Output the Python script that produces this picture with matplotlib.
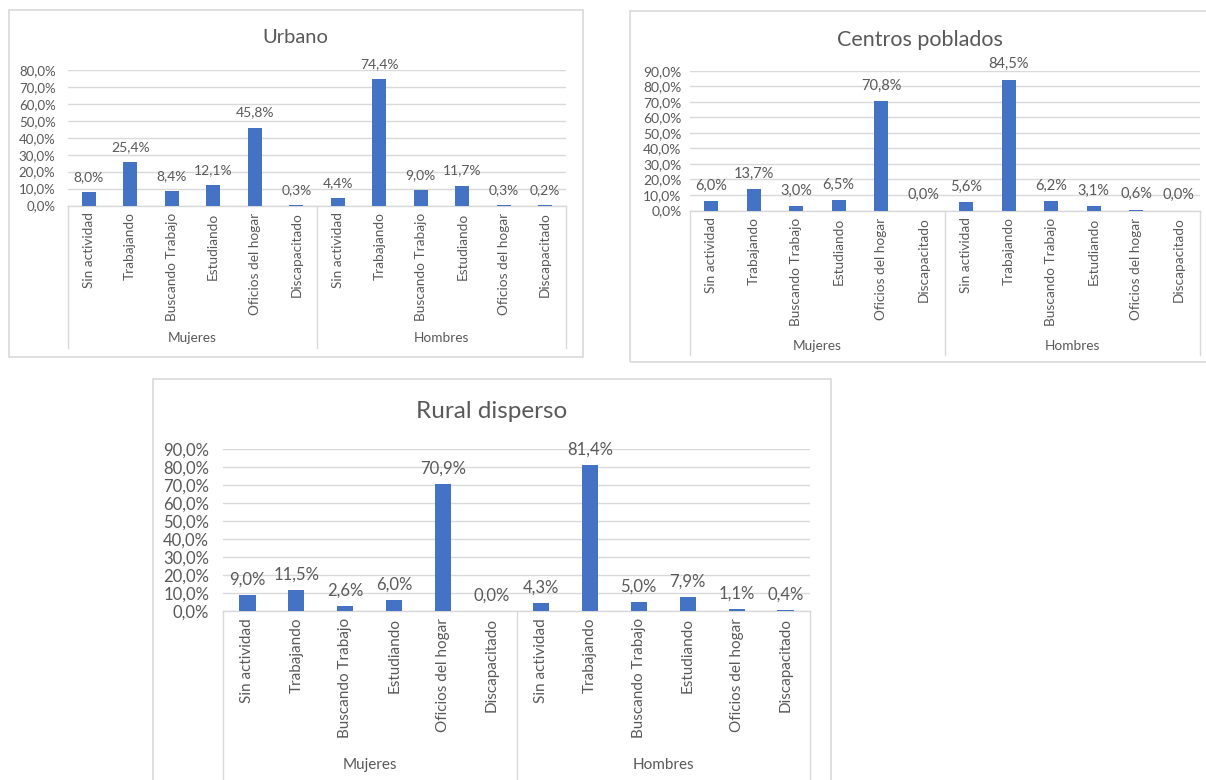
import numpy as np
import matplotlib
matplotlib.use("Agg")
import matplotlib.pyplot as plt
import matplotlib.transforms as mtransforms
from matplotlib.patches import Rectangle

plt.rcParams['font.family'] = ['Lato', 'DejaVu Sans']

categorias = ["Sin actividad", "Trabajando", "Buscando Trabajo", "Estudiando",
              "Oficios del hogar", "Discapacitado"]
grupos = ["Mujeres", "Hombres"]

urbano_mujeres = [8.0, 25.4, 8.4, 12.1, 45.8, 0.3]
urbano_hombres = [4.4, 74.4, 9.0, 11.7, 0.3, 0.2]
centros_mujeres = [6.0, 13.7, 3.0, 6.5, 70.8, 0.0]
centros_hombres = [5.6, 84.5, 6.2, 3.1, 0.6, 0.0]
rural_mujeres = [9.0, 11.5, 2.6, 6.0, 70.9, 0.0]
rural_hombres = [4.3, 81.4, 5.0, 7.9, 1.1, 0.4]

W, H = 1206, 780
AZUL = '#4472C4'
GRIS = '#595959'
LINEA = '#D9D9D9'

fig = plt.figure(figsize=(W / 100, H / 100), dpi=100)
fig.patch.set_facecolor('white')


def fmt(v):
    return '{:.1f}%'.format(v).replace('.', ',')


def panel(titulo, mujeres, hombres, ymax, box, plot, sep_bottom, grp_y, title_y,
          fs_tick, fs_lab, fs_cat, fs_title, ypad):
    # box / plot in pixels: (left, top, right, bottom)
    bl, bt, br, bb = box
    fig.patches.append(Rectangle((bl / W, 1 - bb / H), (br - bl) / W, (bb - bt) / H,
                                 transform=fig.transFigure, fill=False,
                                 edgecolor=LINEA, linewidth=1.2, zorder=0))
    l, t, r, b = plot
    ax = fig.add_axes([l / W, 1 - b / H, (r - l) / W, (b - t) / H])
    valores = list(mujeres) + list(hombres)
    x = np.arange(len(valores))
    ax.bar(x, valores, width=0.33, color=AZUL, zorder=3)
    for xi, v in zip(x, valores):
        ax.annotate(fmt(v), (xi, v), xytext=(0, 11), textcoords='offset points',
                    ha='center', va='center', fontsize=fs_lab, color=GRIS)
    ax.set_xlim(-0.5, len(valores) - 0.5)
    ax.set_ylim(0, ymax)
    ax.set_yticks(np.arange(0, ymax + 0.1, 10))
    ax.set_yticklabels([fmt(v) for v in np.arange(0, ymax + 0.1, 10)])
    ax.set_xticks(x)
    ax.set_xticklabels(categorias * 2, rotation=90, fontsize=fs_cat, color=GRIS)
    ax.tick_params(axis='both', length=0, colors=GRIS)
    ax.tick_params(axis='y', labelsize=fs_tick, pad=ypad)
    ax.tick_params(axis='x', pad=5)
    ax.yaxis.grid(True, color=LINEA, linewidth=1.0, zorder=0)
    ax.set_axisbelow(True)
    for s in ['top', 'right', 'left']:
        ax.spines[s].set_visible(False)
    ax.spines['bottom'].set_color(LINEA)
    ax.spines['bottom'].set_linewidth(1.0)
    ax.set_title(titulo, fontsize=fs_title, color=GRIS, pad=0,
                 y=(b - title_y) / (b - t), va='center')
    ax.title.set_x(((bl + br) / 2 - l) / (r - l))
    trans = mtransforms.blended_transform_factory(ax.transData, ax.transAxes)
    ybot = -(sep_bottom - b) / (b - t)
    n = len(categorias)
    for xs in [-0.5, n - 0.5, 2 * n - 0.5]:
        ax.plot([xs, xs], [0, ybot], transform=trans, color=LINEA,
                linewidth=1.0, clip_on=False)
    ygrp = -(grp_y - b) / (b - t)
    for i, g in enumerate(grupos):
        ax.text(i * n + (n - 1) / 2, ygrp, g, transform=trans, ha='center',
                va='center', fontsize=fs_cat, color=GRIS)
    return ax


panel("Urbano", urbano_mujeres, urbano_hombres, 80,
      box=(8.7, 10, 582.7, 356.7), plot=(68, 70, 566, 205.5),
      sep_bottom=348, grp_y=338, title_y=38,
      fs_tick=9.5, fs_lab=10, fs_cat=9.8, fs_title=14.5, ypad=9)

panel("Centros poblados", centros_mujeres, centros_hombres, 90,
      box=(630, 11, 1210, 361.7), plot=(690, 71, 1200, 210.5),
      sep_bottom=355, grp_y=346, title_y=40,
      fs_tick=10, fs_lab=10.5, fs_cat=9.8, fs_title=15.5, ypad=6)

panel("Rural disperso", rural_mujeres, rural_hombres, 90,
      box=(153.3, 379.3, 830.7, 790), plot=(223, 449.3, 810, 611),
      sep_bottom=785, grp_y=765, title_y=412,
      fs_tick=12, fs_lab=12, fs_cat=11, fs_title=17.5, ypad=10)

fig.savefig('out.png', dpi=100, facecolor='white')
